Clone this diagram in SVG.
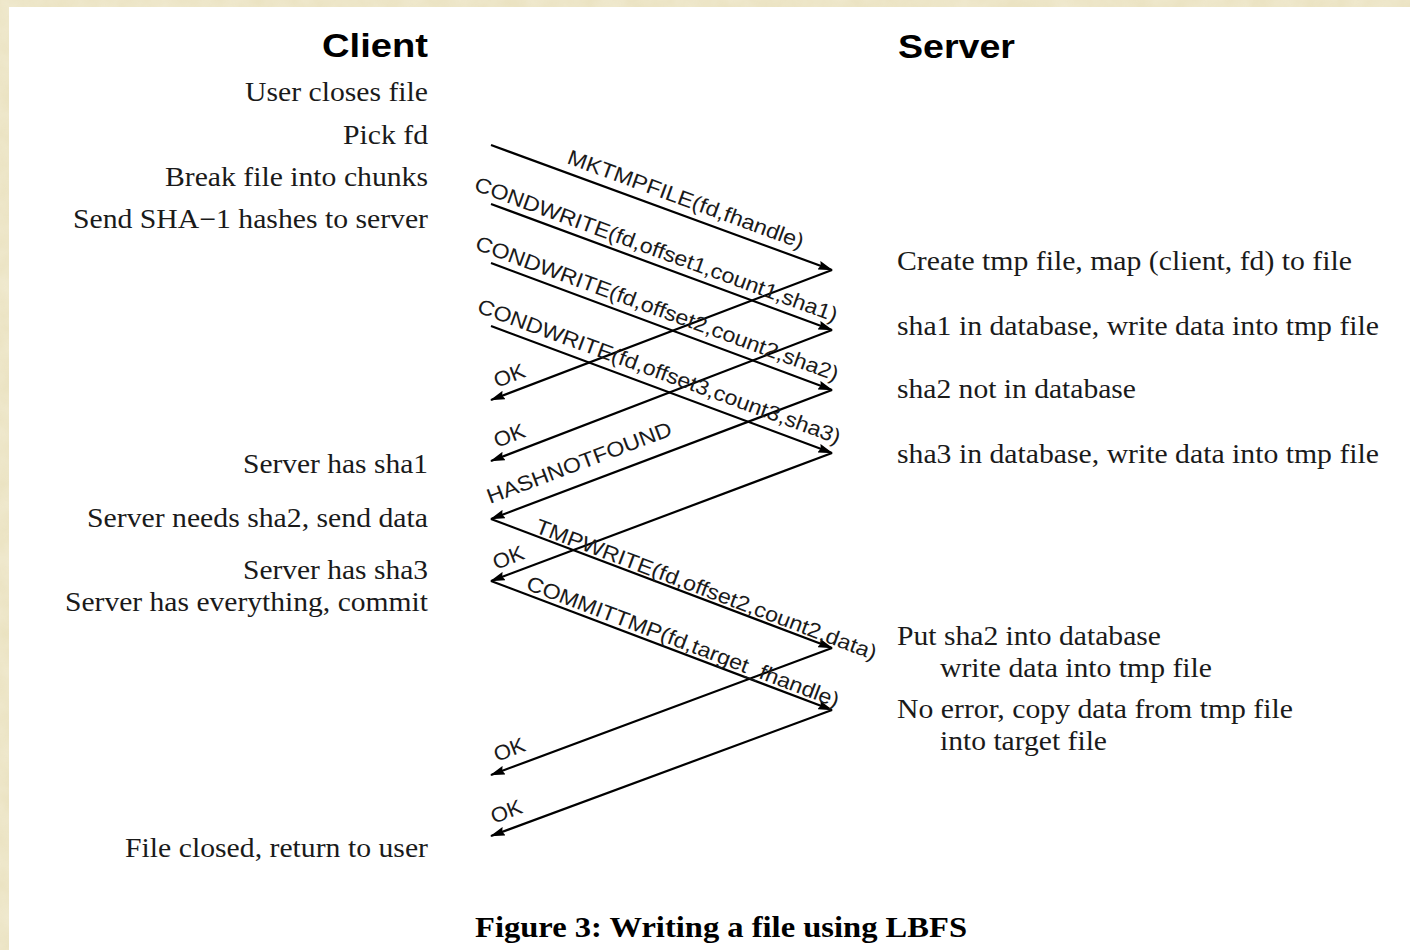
<svg xmlns="http://www.w3.org/2000/svg" width="1410" height="950" viewBox="0 0 1410 950">
<defs>
<marker id="ah" viewBox="0 0 15 9" markerWidth="15" markerHeight="9" refX="14" refY="4.5" markerUnits="userSpaceOnUse" orient="auto">
<path d="M0,0 L15,4.5 L0,9 L2,4.5 z" fill="#000"/>
</marker>
<filter id="tex" x="0" y="0" width="100%" height="100%">
<feTurbulence type="fractalNoise" baseFrequency="0.04" numOctaves="3" seed="4"/>
<feColorMatrix type="matrix" values="0 0 0 0 0.91  0 0 0 0 0.87  0 0 0 0 0.72  0 0 0 -0.9 1.1"/>
</filter>
</defs>
<style>
.bg{fill:#e8dfba}
.hd{font-family:"Liberation Sans",Arial,sans-serif;font-weight:bold;font-size:33px;fill:#000}
.tx{font-family:"Liberation Serif","Times New Roman",serif;font-size:27px;fill:#1a1a1a}
.lb{font-family:"Liberation Sans",Arial,sans-serif;font-size:21px;fill:#1a1a1a}
.cap{font-family:"Liberation Serif","Times New Roman",serif;font-weight:bold;font-size:29px;fill:#000}
.ln{stroke:#000;stroke-width:2.2;fill:none;marker-end:url(#ah)}
</style>
<rect class="bg" x="0" y="0" width="1410" height="950"/>
<rect x="0" y="0" width="1410" height="950" filter="url(#tex)" opacity="0.6"/>
<rect x="9" y="7" width="1401" height="943" fill="#fff"/>

<g id="client-column">
<text class="hd" x="322" y="57" textLength="106" lengthAdjust="spacingAndGlyphs">Client</text>
<text class="tx" x="245" y="101" textLength="183" lengthAdjust="spacingAndGlyphs">User closes file</text>
<text class="tx" x="343" y="144" textLength="85" lengthAdjust="spacingAndGlyphs">Pick fd</text>
<text class="tx" x="165" y="186" textLength="263" lengthAdjust="spacingAndGlyphs">Break file into chunks</text>
<text class="tx" x="73" y="228" textLength="355" lengthAdjust="spacingAndGlyphs">Send SHA−1 hashes to server</text>
<text class="tx" x="243" y="473" textLength="185" lengthAdjust="spacingAndGlyphs">Server has sha1</text>
<text class="tx" x="87" y="527" textLength="341" lengthAdjust="spacingAndGlyphs">Server needs sha2, send data</text>
<text class="tx" x="243" y="579" textLength="185" lengthAdjust="spacingAndGlyphs">Server has sha3</text>
<text class="tx" x="65" y="611" textLength="363" lengthAdjust="spacingAndGlyphs">Server has everything, commit</text>
<text class="tx" x="125" y="857" textLength="303" lengthAdjust="spacingAndGlyphs">File closed, return to user</text>
</g>

<g id="server-column">
<text class="hd" x="898" y="58" textLength="117" lengthAdjust="spacingAndGlyphs">Server</text>
<text class="tx" x="897" y="270" textLength="455" lengthAdjust="spacingAndGlyphs">Create tmp file, map (client, fd) to file</text>
<text class="tx" x="897" y="335" textLength="482" lengthAdjust="spacingAndGlyphs">sha1 in database, write data into tmp file</text>
<text class="tx" x="897" y="398" textLength="239" lengthAdjust="spacingAndGlyphs">sha2 not in database</text>
<text class="tx" x="897" y="463" textLength="482" lengthAdjust="spacingAndGlyphs">sha3 in database, write data into tmp file</text>
<text class="tx" x="897" y="645" textLength="264" lengthAdjust="spacingAndGlyphs">Put sha2 into database</text>
<text class="tx" x="940" y="677" textLength="272" lengthAdjust="spacingAndGlyphs">write data into tmp file</text>
<text class="tx" x="897" y="718" textLength="396" lengthAdjust="spacingAndGlyphs">No error, copy data from tmp file</text>
<text class="tx" x="940" y="750" textLength="167" lengthAdjust="spacingAndGlyphs">into target file</text>
</g>

<g id="connectors">
<line class="ln" x1="491" y1="145" x2="832" y2="270"/>
<line class="ln" x1="491" y1="204" x2="832" y2="330"/>
<line class="ln" x1="491" y1="263" x2="832" y2="390"/>
<line class="ln" x1="491" y1="326" x2="832" y2="453"/>
<line class="ln" x1="832" y1="270" x2="491" y2="400"/>
<line class="ln" x1="832" y1="330" x2="491" y2="461"/>
<line class="ln" x1="832" y1="390" x2="491" y2="519"/>
<line class="ln" x1="832" y1="453" x2="491" y2="581"/>
<line class="ln" x1="491" y1="519" x2="832" y2="648"/>
<line class="ln" x1="491" y1="581" x2="832" y2="710"/>
<line class="ln" x1="832" y1="648" x2="491" y2="775"/>
<line class="ln" x1="832" y1="710" x2="491" y2="836"/>
</g>

<g id="message-labels">
<text class="lb" transform="translate(566,163) rotate(20.1)" textLength="250" lengthAdjust="spacingAndGlyphs">MKTMPFILE(fd,fhandle)</text>
<text class="lb" transform="translate(473,190) rotate(20.1)" textLength="385" lengthAdjust="spacingAndGlyphs">CONDWRITE(fd,offset1,count1,sha1)</text>
<text class="lb" transform="translate(474,249) rotate(20.1)" textLength="385" lengthAdjust="spacingAndGlyphs">CONDWRITE(fd,offset2,count2,sha2)</text>
<text class="lb" transform="translate(476,312) rotate(20.1)" textLength="385" lengthAdjust="spacingAndGlyphs">CONDWRITE(fd,offset3,count3,sha3)</text>
<text class="lb" transform="translate(497,388) rotate(-20.9)" textLength="32" lengthAdjust="spacingAndGlyphs">OK</text>
<text class="lb" transform="translate(497,448) rotate(-20.9)" textLength="32" lengthAdjust="spacingAndGlyphs">OK</text>
<text class="lb" transform="translate(490,504) rotate(-20.7)" textLength="196" lengthAdjust="spacingAndGlyphs">HASHNOTFOUND</text>
<text class="lb" transform="translate(496,570) rotate(-20.9)" textLength="32" lengthAdjust="spacingAndGlyphs">OK</text>
<text class="lb" transform="translate(534,532) rotate(20.7)" textLength="363" lengthAdjust="spacingAndGlyphs">TMPWRITE(fd,offset2,count2,data)</text>
<text class="lb" transform="translate(525,589) rotate(20.9)" textLength="333" lengthAdjust="spacingAndGlyphs">COMMITTMP(fd,target_fhandle)</text>
<text class="lb" transform="translate(497,762) rotate(-20.9)" textLength="32" lengthAdjust="spacingAndGlyphs">OK</text>
<text class="lb" transform="translate(494,824) rotate(-20.9)" textLength="32" lengthAdjust="spacingAndGlyphs">OK</text>
</g>

<g id="caption">
<text class="cap" x="475" y="937" textLength="492" lengthAdjust="spacingAndGlyphs">Figure 3: Writing a file using LBFS</text>
</g>
</svg>
